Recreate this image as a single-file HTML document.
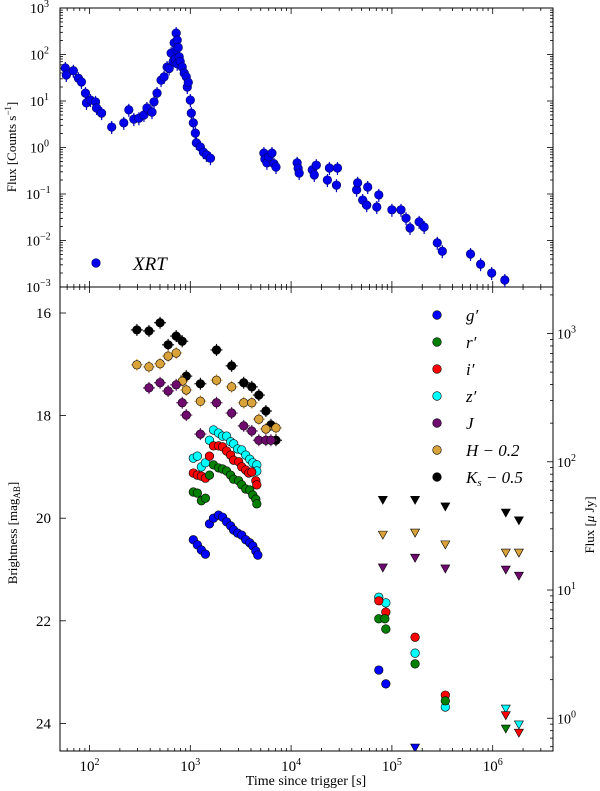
<!DOCTYPE html>
<html><head><meta charset="utf-8">
<style>
html,body{margin:0;padding:0;background:#fff;}
svg{display:block;font-family:"Liberation Serif",serif;}
</style></head>
<body>
<svg id="chart" width="600" height="791" viewBox="0 0 600 791" xmlns="http://www.w3.org/2000/svg">
</svg>
<script>
// ---------- DATA ----------
const xrtLogT=[1.76,1.77,1.84,1.89,1.92,1.96,1.97,2.01,2.06,2.07,2.12,2.22,2.34,2.39,2.44,2.49,2.54,2.57,2.62,2.64,2.67,2.71,2.74,2.77,2.79,2.81,2.83,2.84,2.85,2.86,2.86,2.87,2.87,2.88,2.89,2.90,2.92,2.94,2.96,2.97,2.98,3.00,3.01,3.03,3.05,3.06,3.10,3.13,3.16,3.20,3.73,3.74,3.76,3.78,3.81,3.83,3.85,4.06,4.07,4.08,4.21,4.23,4.25,4.36,4.38,4.45,4.46,4.65,4.66,4.71,4.75,4.76,4.85,4.87,5.00,5.09,5.14,5.18,5.27,5.32,5.45,5.50,5.78,5.88,5.99,6.12];
const xrtLogF=[1.71,1.56,1.65,1.49,1.41,1.17,0.96,1.02,0.98,0.85,0.74,0.44,0.53,0.81,0.61,0.63,0.70,0.85,0.76,0.98,1.17,1.45,1.52,1.73,1.70,2.03,1.85,2.25,1.90,2.46,2.10,2.31,1.80,2.15,1.95,1.85,1.73,1.60,1.52,1.30,1.40,1.02,0.74,0.53,0.31,0.10,0.01,-0.10,-0.16,-0.23,-0.12,-0.25,-0.33,-0.20,-0.12,-0.35,-0.42,-0.33,-0.45,-0.55,-0.48,-0.59,-0.38,-0.70,-0.44,-0.81,-0.44,-0.91,-0.76,-1.13,-1.24,-0.85,-1.28,-1.02,-1.34,-1.34,-1.52,-1.73,-1.60,-1.71,-2.05,-2.23,-2.29,-2.51,-2.70,-2.85,-2.83];

const kLogT=[2.47,2.59,2.70,2.78,2.86,2.92,2.96,3.10,3.26,3.41,3.53,3.61,3.68,3.75,3.80,3.85];
const kMag=[16.33,16.35,16.19,16.62,16.45,16.55,17.23,17.38,16.72,17.03,17.36,17.44,17.60,17.91,18.18,18.48];
const hLogT=[2.47,2.59,2.70,2.78,2.86,2.92,2.96,3.10,3.26,3.41,3.53,3.61,3.68,3.75,3.85];
const hMag=[17.01,17.05,16.99,16.84,16.78,17.33,17.50,17.72,17.31,17.44,17.75,17.75,18.07,18.26,18.24];
const jLogT=[2.59,2.70,2.78,2.86,2.92,2.96,3.10,3.26,3.41,3.53,3.61,3.68,3.75,3.80];
const jMag=[17.46,17.36,17.52,17.40,17.75,17.99,18.36,17.75,17.95,18.20,18.30,18.48,18.48,18.48];
const zLogT=[3.03,3.07,3.11,3.15,3.19,3.23,3.28,3.32,3.36,3.40,3.43,3.47,3.51,3.55,3.59,3.62,3.66,3.66,4.87,4.94,5.23,5.53];
const zMag=[18.83,18.79,19.00,18.92,18.48,18.28,18.34,18.40,18.40,18.51,18.55,18.65,18.67,18.77,18.85,18.92,18.96,19.08,21.54,21.65,22.63,23.68];
const iLogT=[3.03,3.07,3.11,3.15,3.19,3.23,3.28,3.32,3.36,3.40,3.43,3.48,3.51,3.55,3.58,3.61,3.65,3.66,4.87,4.94,5.23,5.53];
const iMag=[19.12,19.16,19.18,19.22,18.79,18.59,18.59,18.61,18.69,18.77,18.87,18.90,19.00,19.06,19.12,19.10,19.27,19.35,21.61,21.83,22.32,23.45];
const rLogT=[3.03,3.07,3.11,3.15,3.19,3.23,3.28,3.32,3.36,3.40,3.43,3.48,3.51,3.55,3.59,3.62,3.65,3.66,4.87,4.93,4.94,5.23,5.53];
const rMag=[19.49,19.51,19.66,19.61,19.16,18.96,19.02,19.04,19.08,19.16,19.24,19.27,19.35,19.43,19.45,19.55,19.63,19.72,21.96,21.96,22.16,22.84,23.56];
const gLogT=[3.03,3.07,3.11,3.15,3.19,3.23,3.28,3.32,3.36,3.40,3.43,3.47,3.51,3.55,3.59,3.62,3.65,3.67,4.87,4.94];
const gMag=[20.42,20.52,20.62,20.70,20.11,20.00,19.94,19.98,20.07,20.15,20.23,20.29,20.33,20.42,20.48,20.54,20.64,20.72,22.96,23.23];
// upper limits
const ulK_T=[4.91,5.23,5.53,6.13,6.26], ulK_M=[19.65,19.65,19.78,19.90,20.05];
const ulH_T=[4.91,5.23,5.53,6.13,6.26], ulH_M=[20.33,20.29,20.52,20.68,20.68];
const ulJ_T=[4.91,5.23,5.53,6.13,6.26], ulJ_M=[20.97,20.78,20.99,21.01,21.13];
const ulZ_T=[6.13,6.26], ulZ_M=[23.72,24.03];
const ulI_T=[6.13,6.26], ulI_M=[23.85,24.19];
const ulR_T=[6.13], ulR_M=[24.11];
const ulG_T=[5.23], ulG_M=[24.48];

const xTickLabels=["2","3","4","5","6"];
const yTopTickLabels=["3","2","1","0","-1","-2","-3"];
const magTickLabels=["16","18","20","22","24"];
const fluxTickLabels=["0","1","2","3"];
const legendLabels=["g′","r′","i′","z′","J","H − 0.2","K<tspan font-size='11' dy='3'>s</tspan><tspan dy='-3'> − 0.5</tspan>"];

// ---------- SCALES ----------
const L=60,R=553,T1=8,B1=287,B2=751;
const X=lt=>89.5+100.8*(lt-2);
const Yt=lf=>T1+46.5*(3-lf);
const Ym=m=>313+51.3*(m-16);
const svg=document.getElementById('chart');
const NS='http://www.w3.org/2000/svg';
function mk(tag,attrs,parent){const e=document.createElementNS(NS,tag);for(const k in attrs)e.setAttribute(k,attrs[k]);(parent||svg).appendChild(e);return e;}

const defs=mk('defs',{});
const c1=mk('clipPath',{id:'c1'},defs);mk('rect',{x:L,y:T1,width:R-L,height:B1-T1},c1);
const c2=mk('clipPath',{id:'c2'},defs);mk('rect',{x:L,y:B1,width:R-L,height:B2-B1},c2);

const fr1=mk('rect',{x:L,y:T1,width:R-L,height:B1-T1,fill:'none',stroke:'#000','stroke-width':1});


const fr2=mk('rect',{x:L,y:B1,width:R-L,height:B2-B1,fill:'none',stroke:'#000','stroke-width':1});



const gx=mk('g',{stroke:'#000','stroke-width':0.8});


for(let d=1;d<=6;d++){for(let k=1;k<10;k++){const lt=d+Math.log10(k);const x=X(lt);if(x<L||x>R)continue;const len=k===1?6:3;
 for(const y0 of [T1,B1]){mk('line',{x1:x,y1:y0,x2:x,y2:y0+len},gx);}
 for(const y0 of [B1,B2]){mk('line',{x1:x,y1:y0,x2:x,y2:y0-len},gx);}}}
xTickLabels.forEach(s=>{const t=mk('text',{x:X(+s),y:771,'text-anchor':'middle','font-size':15});t.innerHTML='10<tspan font-size="10" dy="-6">'+s+'</tspan>';
 
 });
const xl=mk('text',{x:306,y:785,'text-anchor':'middle','font-size':14});xl.textContent='Time since trigger [s]';



const gy=mk('g',{stroke:'#000','stroke-width':0.8});


for(let d=-3;d<3;d++)for(let k=1;k<10;k++){const y=Yt(d+Math.log10(k));const len=k===1?6:3;mk('line',{x1:L,y1:y,x2:L+len,y2:y},gy);mk('line',{x1:R,y1:y,x2:R-len,y2:y},gy);}
mk('line',{x1:L,y1:T1,x2:L+6,y2:T1},gy);
yTopTickLabels.forEach(s=>{const t=mk('text',{x:30,y:Yt(+s)+5,'font-size':14,'text-anchor':'start'});t.innerHTML='10<tspan font-size="10" dy="-6">'+s.replace('-','−')+'</tspan>';
 
 
 if(s.startsWith('-'))t.setAttribute('x',26);});
const yl1=mk('text',{x:0,y:0,'text-anchor':'middle','font-size':13,transform:'translate(16,147) rotate(-90)'});
yl1.innerHTML='Flux [Counts s<tspan font-size="9" dy="-5">−1</tspan><tspan dy="5">]</tspan>';



const gm=mk('g',{stroke:'#000','stroke-width':0.8});


magTickLabels.forEach(s=>{const y=Ym(+s);mk('line',{x1:L,y1:y,x2:L+6,y2:y},gm);
 const t=mk('text',{x:51,y:y+5,'text-anchor':'end','font-size':15});t.textContent=s;
 
 });
const yl2=mk('text',{x:0,y:0,'text-anchor':'middle','font-size':13,transform:'translate(17,533) rotate(-90)'});
yl2.innerHTML='Brightness [mag<tspan font-size="9" dy="3">AB</tspan><tspan dy="-3">]</tspan>';



const YF=lf=>Ym(23.9-2.5*lf);
const gf=mk('g',{stroke:'#000','stroke-width':0.8});


for(let d=-1;d<4;d++)for(let k=1;k<10;k++){const y=YF(d+Math.log10(k));if(y<B1||y>B2)continue;mk('line',{x1:R,y1:y,x2:R-(k===1?6:3),y2:y},gf);}
fluxTickLabels.forEach(s=>{const t=mk('text',{x:557,y:YF(+s)+5,'font-size':14});t.innerHTML='10<tspan font-size="10" dy="-6">'+s+'</tspan>';
 
 });
const yl3=mk('text',{x:0,y:0,'text-anchor':'middle','font-size':13,transform:'translate(594,525) rotate(-90)'});
yl3.innerHTML='Flux [<tspan font-style="italic">μ</tspan> Jy]';



const gX=mk('g',{'clip-path':'url(#c1)'});


xrtLogT.forEach((lt,i)=>{const x=X(lt),y=Yt(xrtLogF[i]);
 mk('line',{x1:x,y1:y-6,x2:x,y2:y+7,stroke:'#0000cc','stroke-width':1.2},gX);
 const c=mk('circle',{cx:x,cy:y,r:4.3,fill:'#0000ee',stroke:'#000066','stroke-width':0.6},gX);
 
 });
const xc=mk('circle',{cx:96,cy:263,r:4.3,fill:'#0000ee',stroke:'#000066','stroke-width':0.6});


const xt=mk('text',{x:133,y:270,'font-size':19,'font-style':'italic'});xt.textContent='XRT';



const gO=mk('g',{'clip-path':'url(#c2)'});


const bands=[
 {n:'g',T:gLogT,M:gMag,c:'#0000ff',uT:ulG_T,uM:ulG_M},
 {n:'r',T:rLogT,M:rMag,c:'#007f00',uT:ulR_T,uM:ulR_M},
 {n:'i',T:iLogT,M:iMag,c:'#ff0000',uT:ulI_T,uM:ulI_M},
 {n:'z',T:zLogT,M:zMag,c:'#00ffff',uT:ulZ_T,uM:ulZ_M},
 {n:'j',T:jLogT,M:jMag,c:'#6e0a6e',uT:ulJ_T,uM:ulJ_M},
 {n:'h',T:hLogT,M:hMag,c:'#d9a33a',uT:ulH_T,uM:ulH_M},
 {n:'ks',T:kLogT,M:kMag,c:'#000000',uT:ulK_T,uM:ulK_M}];
bands.slice().reverse().forEach(b=>{
 const nir=(b.n==='j'||b.n==='h'||b.n==='ks');
 b.T.forEach((lt,i)=>{const x=X(lt),y=Ym(b.M[i]);
  if(nir){mk('line',{x1:x-6,y1:y,x2:x+6,y2:y,stroke:b.c,'stroke-width':1.1},gO);mk('line',{x1:x,y1:y-6,x2:x,y2:y+6,stroke:b.c,'stroke-width':1.1},gO);}
  const c=mk('circle',{cx:x,cy:y,r:4.3,fill:b.c,stroke:'#000','stroke-width':0.6},gO);
  
  });
 b.uT.forEach((lt,i)=>{const x=X(lt),y=Ym(b.uM[i]);
  const p=mk('path',{d:`M${x-4.5},${y-4} L${x+4.5},${y-4} L${x},${y+4} Z`,fill:b.c,stroke:'#000','stroke-width':0.6},gO);
  
  });
});

const gl=mk('g',{});


const legY=[315,342,369,396,423,450,477];
bands.forEach((b,i)=>{const c=mk('circle',{cx:437,cy:legY[i],r:4.3,fill:b.c,stroke:'#000','stroke-width':0.6},gl);
 
 
 const t=mk('text',{x:466,y:legY[i]+6,'font-size':17,'font-style':'italic'},gl);t.innerHTML=legendLabels[i];
 
 });
</script>
</body></html>
